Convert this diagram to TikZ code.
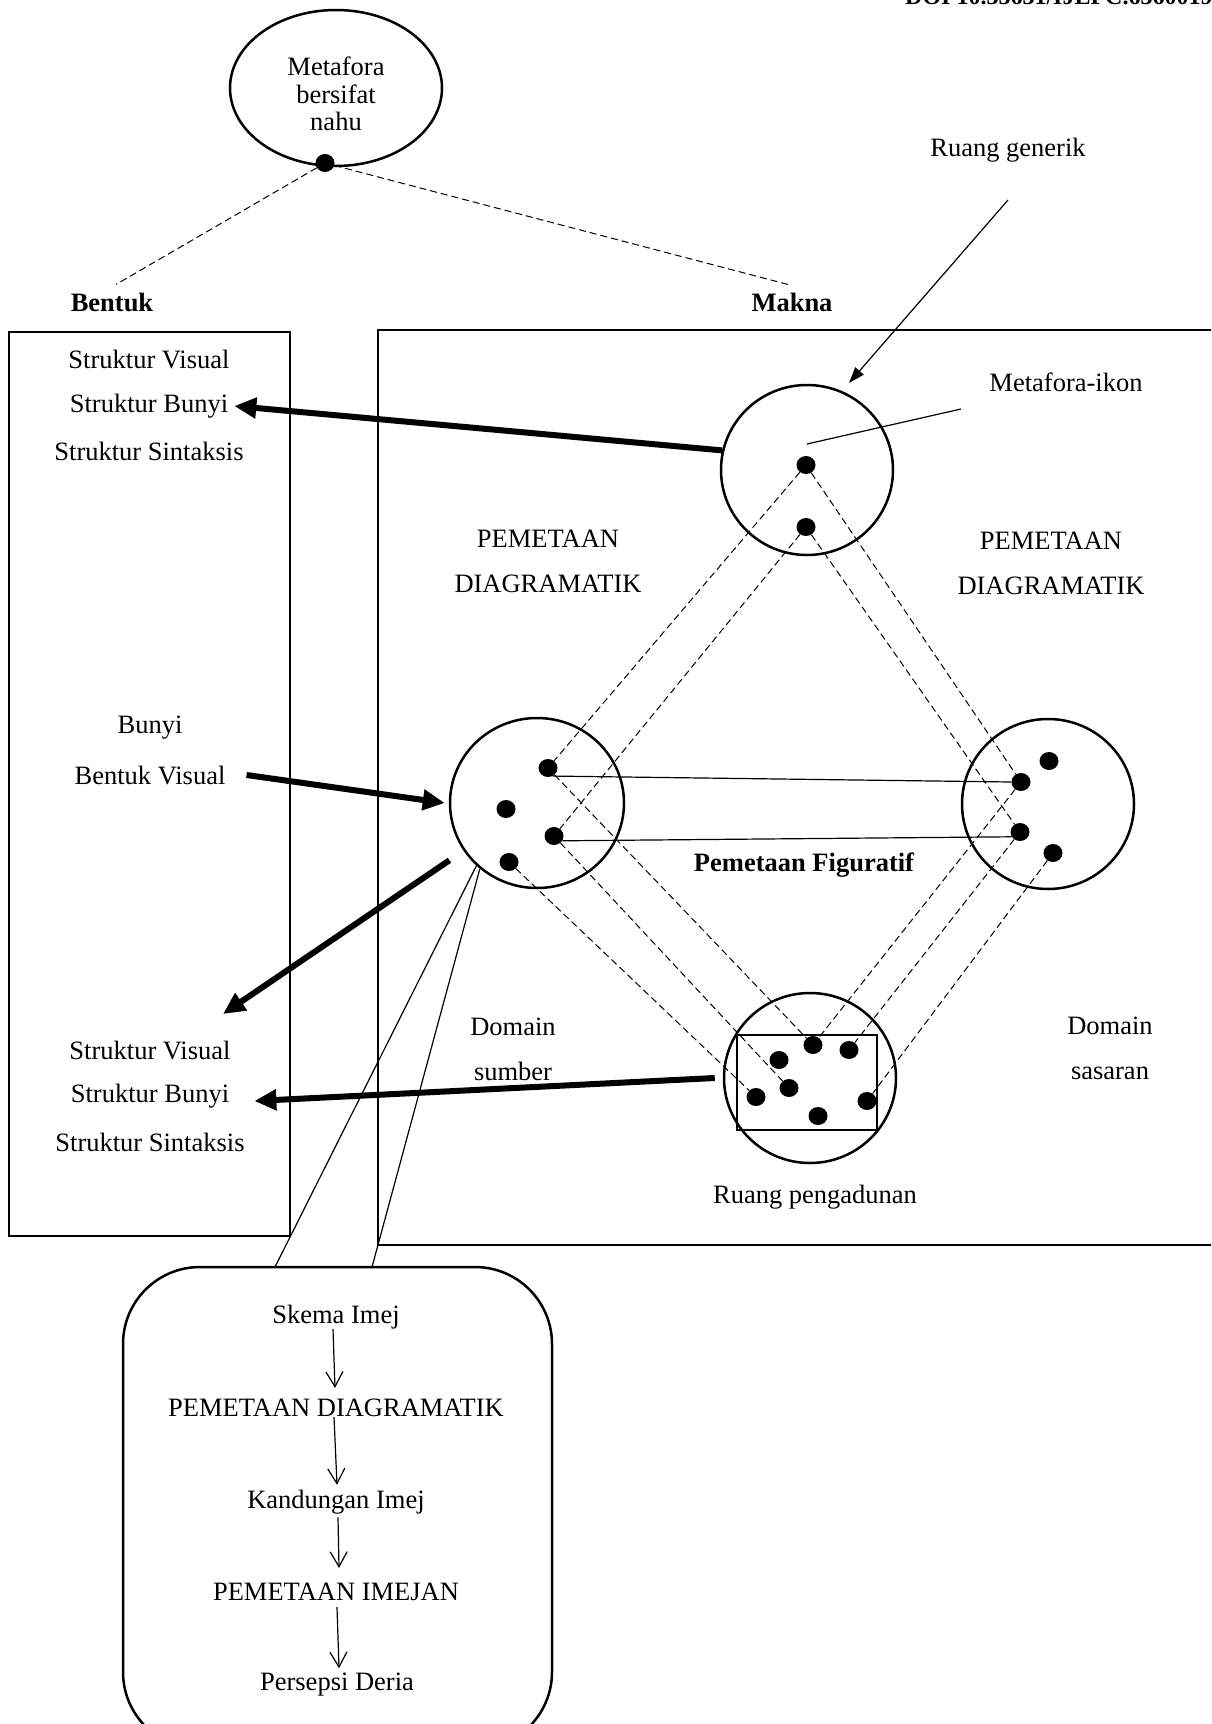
\documentclass[tikz,border=0pt]{standalone}
\usepackage{fontspec}
\setmainfont{Liberation Serif}
\usetikzlibrary{shapes.geometric,arrows.meta,calc}
\begin{document}
\begin{tikzpicture}[x=1pt,y=-1pt,
  every node/.style={inner sep=0pt, font=\fontsize{26.5}{30.5}\selectfont},
  bld/.style={font=\fontsize{26.5}{30.5}\selectfont\bfseries},
  twoline/.style={align=center, font=\fontsize{26.5}{45}\selectfont},
  oval/.style={draw, ellipse, line width=2.5pt},
  spot/.style={fill, ellipse, minimum width=19pt, minimum height=18pt},
  dline/.style={line width=1pt, dash pattern=on 7pt off 4pt},
  sline/.style={line width=1.2pt},
  frame/.style={draw, line width=2.5pt},
  bigarrow/.style={line width=6pt, -{Triangle[length=22pt,width=20pt]}},
  thinarrow/.style={line width=1.2pt, -{Triangle[length=16pt,width=11pt]}},
  flowarrow/.style={line width=1.2pt, -{Straight Barb[length=15pt,width=17pt]}}
]
\useasboundingbox (0,0) rectangle (1211,1724);
\fill[white] (0,0) rectangle (1211,1724);
\clip (0,0) rectangle (1211,1724);

% header
\node[font=\fontsize{24}{24}\selectfont\bfseries, anchor=base west] (doi) at (905,4) {DOI 10.35631/IJEPC.6360019};

% top ellipse
\node[oval, minimum width=212pt, minimum height=156pt] (top) at (336,88) {};
\node[align=center, font=\fontsize{26.5}{27.5}\selectfont] (toptxt) at (336,94) {Metafora\\bersifat\\nahu};
\node[spot] (tdot) at (325,163) {};
\node[bld] (bentuk) at (112,302) {Bentuk};
\node[bld] (makna) at (792,302) {Makna};
\draw[dline] (tdot) -- ([shift={(4pt,8pt)}]bentuk.north);
\draw[dline] (tdot) -- ([shift={(-4pt,8pt)}]makna.north);

% frames
\draw[frame] (9,332) rectangle (290,1236);
\draw[frame] (378,330) rectangle (1240,1245);

% left column texts
\node (sv1) at (149,360) {Struktur Visual};
\node (sb1) at (149,406) {Struktur Bunyi};
\node (ss1) at (149,451) {Struktur Sintaksis};
\node (bunyi) at (150,728) {Bunyi};
\node (bv) at (150,775) {Bentuk Visual};
\node (sv2) at (150,1050) {Struktur Visual};
\node (sb2) at (150,1096) {Struktur Bunyi};
\node (ss2) at (150,1142) {Struktur Sintaksis};

% labels
\node (rg) at (1008,150) {Ruang generik};
\node (mi) at (1066,382) {Metafora-ikon};
\node[twoline] (pdl) at (548,561.5) {PEMETAAN\\DIAGRAMATIK};
\node[twoline] (pdr) at (1051,563.5) {PEMETAAN\\DIAGRAMATIK};
\node[bld] (pf) at (804,865) {Pemetaan Figuratif};
\node[twoline] (dsu) at (513,1049.5) {Domain\\sumber};
\node[twoline] (dsa) at (1110,1048.5) {Domain\\sasaran};
\node (rp) at (815,1197) {Ruang pengadunan};

% circles
\node[oval, minimum width=172pt, minimum height=170pt] (tc) at (807,470) {};
\node[oval, minimum width=174pt, minimum height=170pt] (lc) at (537,803) {};
\node[oval, minimum width=172pt, minimum height=170pt] (rc) at (1048,804) {};
\node[oval, minimum width=172pt, minimum height=170pt] (bc) at (810,1078) {};
\draw[line width=2.5pt] (737,1035) rectangle (877,1130);

% dots
\node[spot] (t1) at (806,465) {};
\node[spot] (t2) at (806,527) {};
\node[spot] (l1) at (548,768) {};
\node[spot] (l2) at (506,809) {};
\node[spot] (l3) at (554,836) {};
\node[spot] (l4) at (509,862) {};
\node[spot] (r1) at (1049,761) {};
\node[spot] (r2) at (1021,782) {};
\node[spot] (r3) at (1020,832) {};
\node[spot] (r4) at (1053,853) {};
\node[spot] (b1) at (813,1045) {};
\node[spot] (b2) at (849,1050) {};
\node[spot] (b3) at (779,1060) {};
\node[spot] (b4) at (789,1088) {};
\node[spot] (b5) at (756,1097) {};
\node[spot] (b6) at (867,1101) {};
\node[spot] (b7) at (818,1116) {};

% dashed mappings
\draw[dline] (t1) -- (l1);
\draw[dline] (t2) -- (l3);
\draw[dline] (t1) -- (r2);
\draw[dline] (t2) -- (r3);
\draw[dline] (l1) -- (b1);
\draw[dline] (l3) -- (b4);
\draw[dline] (l4) -- (b5);
\draw[dline] (r2) -- (b1);
\draw[dline] (r3) -- (b2);
\draw[dline] (r4) -- (b6);

% solid figurative mappings
\draw[sline] (l1.300) -- (r2.west);
\draw[sline] (l3.330) -- (r3.210);

% pointer lines
\coordinate (rgs) at (1008,200);
\coordinate (rgt) at (849,383);
\draw[thinarrow] (rgs) -- (rgt);
\coordinate (mis) at (961,409);
\draw[sline] (mis) -- ([shift={(1pt,21pt)}]t1.center);

% thick arrows
\draw[bigarrow] (tc.167) -- ([xshift=6pt]sb1.east);
\draw[bigarrow] ([xshift=21pt]bv.east) -- ([xshift=-4pt]lc.west);
\draw[bigarrow, shorten <=17pt] (lc.213) -- (223,1014);
\draw[bigarrow] ([xshift=-8pt]bc.west) -- ([shift={(25pt,-5pt)}]sb2.east);

% zoom box
\node[draw, line width=2.5pt, rounded corners=77pt, minimum width=429pt, minimum height=482pt] (bx) at (337.5,1508) {};
\coordinate (bxa) at (275,1267);
\coordinate (bxb) at (372,1267);
\draw[sline] (lc.226) -- (bxa);
\draw[sline] (lc.229) -- (bxb);

\node (f1) at (336,1317) {Skema Imej};
\node (f2) at (336,1408) {PEMETAAN DIAGRAMATIK};
\node (f3) at (336,1502) {Kandungan Imej};
\node (f4) at (336,1592) {PEMETAAN IMEJAN};
\node (f5) at (337,1685) {Persepsi Deria};
\draw[flowarrow] ([xshift=-3pt]f1.south) -- ([shift={(-1pt,11pt)}]f2.north);
\draw[flowarrow] ([xshift=-2pt]f2.south) -- ([shift={(1pt,5pt)}]f3.north);
\draw[flowarrow] ([shift={(2pt,-3pt)}]f3.south) -- ([shift={(3pt,15pt)}]f4.north);
\draw[flowarrow] ([shift={(1pt,-6pt)}]f4.south) -- ([shift={(2pt,5pt)}]f5.north);
\end{tikzpicture}
\end{document}
